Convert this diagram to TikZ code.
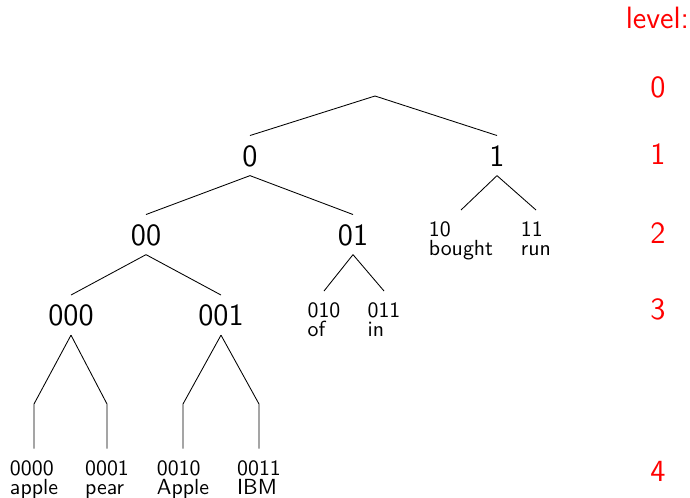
\documentclass[tikz,border=0pt]{standalone}
\renewcommand{\familydefault}{\sfdefault}
\begin{document}
\begin{tikzpicture}[x=0.467pt,y=-0.467pt,
  inner/.style={font=\sffamily\Large, inner xsep=0pt, inner ysep=4.3pt, text depth=0pt, anchor=base},
  leaf/.style={font=\sffamily\fontsize{10.2pt}{8.8pt}\selectfont, align=left, inner xsep=0pt, inner ysep=5.4pt, anchor=north},
  lvl/.style={font=\sffamily\Large, text=red, anchor=base, inner sep=0pt},
  edge/.style={draw=black, line width=0.4pt}]
\useasboundingbox (0,0) rectangle (690,497);

% root and inner nodes
\coordinate (root) at (375,96);
\node[inner] (n0) at (250,166) {0};
\node[inner] (n1) at (497,166) {1};
\node[inner] (n00) at (146,245) {00};
\node[inner] (n01) at (353,245) {01};
\node[inner] (n000) at (71,325.5) {000};
\node[inner] (n001) at (221,325.5) {001};

% leaves
\node[leaf] (n10) at (461,210) {10\\bought};
\node[leaf] (n11) at (536,210) {11\\run};
\node[leaf] (n010) at (324,291) {010\\of};
\node[leaf] (n011) at (384,291) {011\\in};
\node[leaf] (n0000) at (34,448.5) {0000\\apple};
\node[leaf] (n0001) at (107,448.5) {0001\\pear};
\node[leaf] (n0010) at (183,448.5) {0010\\Apple};
\node[leaf] (n0011) at (259,448.5) {0011\\IBM};

% bends of the long branches
\coordinate (b0000) at (34,404);
\coordinate (b0001) at (107,404);
\coordinate (b0010) at (183,404);
\coordinate (b0011) at (259,404);

% edges
\draw[edge] (root) -- (n0.north);
\draw[edge] (root) -- (n1.north);
\draw[edge] (n0.south) -- (n00.north);
\draw[edge] (n0.south) -- (n01.north);
\draw[edge] (n1.south) -- (n10.north);
\draw[edge] (n1.south) -- (n11.north);
\draw[edge] (n00.south) -- (n000.north);
\draw[edge] (n00.south) -- (n001.north);
\draw[edge] (n01.south) -- (n010.north);
\draw[edge] (n01.south) -- (n011.north);
\draw[edge] (n000.south) -- (b0000) -- (n0000.north);
\draw[edge] (n000.south) -- (b0001) -- (n0001.north);
\draw[edge] (n001.south) -- (b0010) -- (n0010.north);
\draw[edge] (n001.south) -- (b0011) -- (n0011.north);

% level labels
\node[lvl] (lvlhead) at (657.5,28) {level:};
\node[lvl] (lvl0) at (658,97) {0};
\node[lvl] (lvl1) at (658,164) {1};
\node[lvl] (lvl2) at (658,243) {2};
\node[lvl] (lvl3) at (658,319) {3};
\node[lvl] (lvl4) at (658,481) {4};
\end{tikzpicture}
\end{document}
